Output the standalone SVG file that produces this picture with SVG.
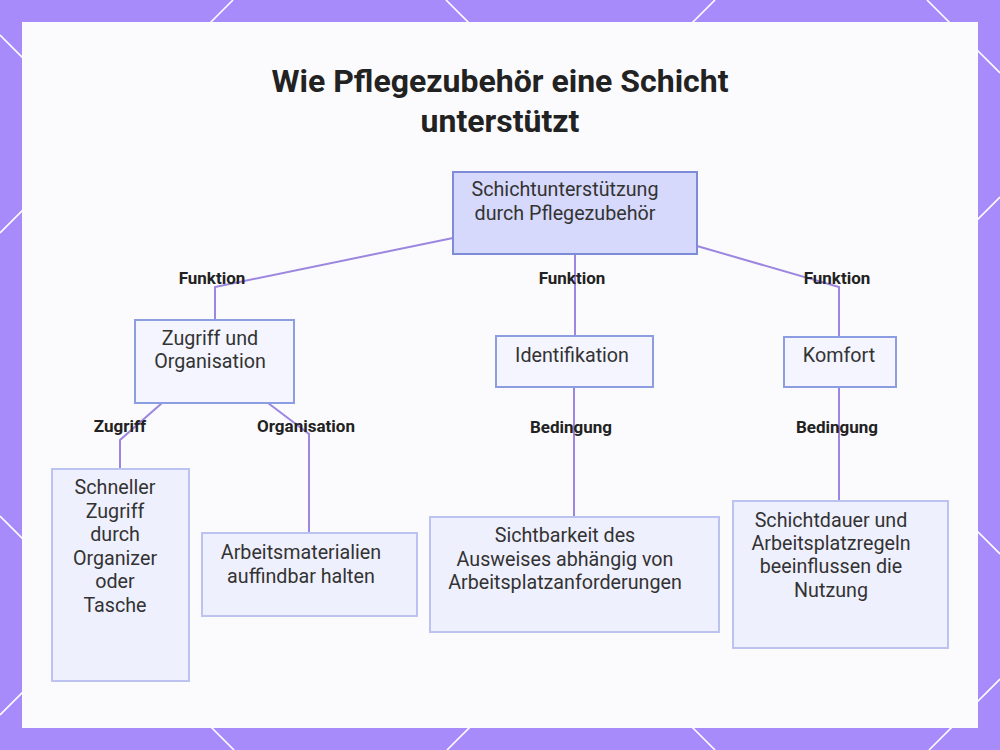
<svg xmlns="http://www.w3.org/2000/svg" width="1000" height="750" viewBox="0 0 1000 750">
  <defs>
    <style>
      .lattice { stroke: #ffffff; stroke-width: 1.6; fill: none; }
      .title { font-family: Roboto, "Liberation Sans", sans-serif; font-weight: 700; font-size: 32px; fill: #222222; text-anchor: middle; }
      .ntext { font-family: Roboto, "Liberation Sans", sans-serif; font-size: 19.7px; fill: #333333; text-anchor: middle; }
      .elabel { font-family: Roboto, "Liberation Sans", sans-serif; font-weight: 700; font-size: 17px; fill: #222222; text-anchor: middle; }
      .edge { stroke: #9c86e0; stroke-width: 2; fill: none; }
      .root { fill: #d6d9fb; stroke: #7e8cd8; stroke-width: 2; }
      .mid { fill: #f4f5fe; stroke: #8d9de2; stroke-width: 2; }
      .leaf { fill: #eff0fd; stroke: #bcc3f1; stroke-width: 2; }
    </style>
  </defs>

  <g id="background">
    <rect x="0" y="0" width="1000" height="750" fill="#a78bfa"/>
    <line class="lattice" x1="233" y1="0" x2="0" y2="233"/>
    <line class="lattice" x1="715" y1="0" x2="0" y2="715"/>
    <line class="lattice" x1="1000" y1="197" x2="447" y2="750"/>
    <line class="lattice" x1="1000" y1="679" x2="929" y2="750"/>
    <line class="lattice" x1="446" y1="0" x2="1000" y2="554"/>
    <line class="lattice" x1="927" y1="0" x2="1000" y2="73"/>
    <line class="lattice" x1="0" y1="35" x2="715" y2="750"/>
    <line class="lattice" x1="0" y1="516" x2="234" y2="750"/>
    <rect x="22" y="22" width="956" height="706" fill="#fbfbfd"/>
  </g>

  <g id="title">
    <text class="title" x="500" y="92">Wie Pflegezubehör eine Schicht</text>
    <text class="title" x="500" y="132">unterstützt</text>
  </g>

  <g id="connectors">
    <polyline class="edge" points="453,238 215,287 215,320"/>
    <line class="edge" x1="575" y1="254" x2="575" y2="336"/>
    <polyline class="edge" points="697,246 839,287 839,337"/>
    <polyline class="edge" points="162,403 120,440 120,469"/>
    <polyline class="edge" points="268,403 309,434 309,533"/>
    <line class="edge" x1="574" y1="387" x2="574" y2="517"/>
    <line class="edge" x1="839" y1="387" x2="839" y2="501"/>
    <text class="elabel" x="212" y="284">Funktion</text>
    <text class="elabel" x="572" y="284">Funktion</text>
    <text class="elabel" x="837" y="284">Funktion</text>
    <text class="elabel" x="120" y="432">Zugriff</text>
    <text class="elabel" x="306" y="432">Organisation</text>
    <text class="elabel" x="571" y="433">Bedingung</text>
    <text class="elabel" x="837" y="433">Bedingung</text>
  </g>

  <g id="node-root">
    <rect class="root" x="453" y="172" width="244" height="82"/>
    <text class="ntext" x="565" y="196">Schichtunterstützung</text>
    <text class="ntext" x="565" y="220">durch Pflegezubehör</text>
  </g>

  <g id="node-zugriff-organisation">
    <rect class="mid" x="135" y="320" width="159" height="83"/>
    <text class="ntext" x="210" y="345">Zugriff und</text>
    <text class="ntext" x="210" y="368">Organisation</text>
  </g>

  <g id="node-identifikation">
    <rect class="mid" x="496" y="336" width="157" height="51"/>
    <text class="ntext" x="572" y="362">Identifikation</text>
  </g>

  <g id="node-komfort">
    <rect class="mid" x="784" y="337" width="112" height="50"/>
    <text class="ntext" x="839" y="362">Komfort</text>
  </g>

  <g id="node-schneller-zugriff">
    <rect class="leaf" x="52" y="469" width="137" height="212"/>
    <text class="ntext" x="115" y="494">Schneller</text>
    <text class="ntext" x="115" y="518">Zugriff</text>
    <text class="ntext" x="115" y="541">durch</text>
    <text class="ntext" x="115" y="565">Organizer</text>
    <text class="ntext" x="115" y="588">oder</text>
    <text class="ntext" x="115" y="612">Tasche</text>
  </g>

  <g id="node-arbeitsmaterialien">
    <rect class="leaf" x="202" y="533" width="215" height="83"/>
    <text class="ntext" x="301" y="559">Arbeitsmaterialien</text>
    <text class="ntext" x="301" y="583">auffindbar halten</text>
  </g>

  <g id="node-sichtbarkeit">
    <rect class="leaf" x="430" y="517" width="289" height="115"/>
    <text class="ntext" x="565" y="542">Sichtbarkeit des</text>
    <text class="ntext" x="565" y="566">Ausweises abhängig von</text>
    <text class="ntext" x="565" y="589">Arbeitsplatzanforderungen</text>
  </g>

  <g id="node-schichtdauer">
    <rect class="leaf" x="733" y="501" width="215" height="147"/>
    <text class="ntext" x="831" y="527">Schichtdauer und</text>
    <text class="ntext" x="831" y="550">Arbeitsplatzregeln</text>
    <text class="ntext" x="831" y="573">beeinflussen die</text>
    <text class="ntext" x="831" y="597">Nutzung</text>
  </g>
</svg>
